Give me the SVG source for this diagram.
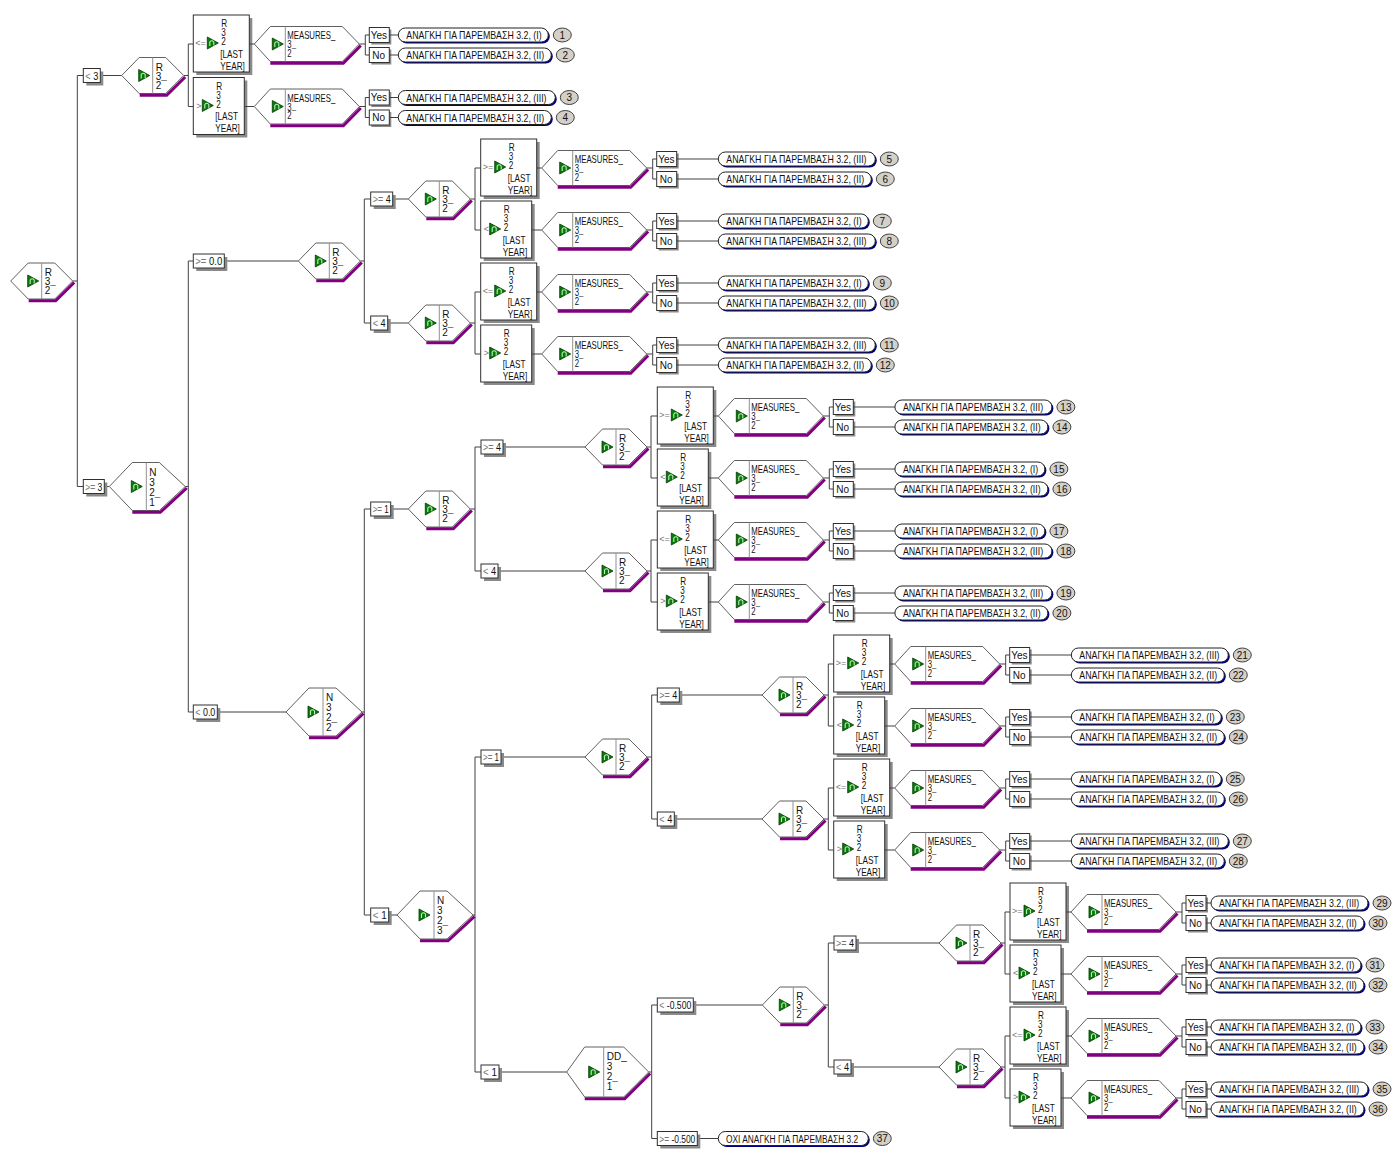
<svg xmlns="http://www.w3.org/2000/svg" width="1396" height="1149" viewBox="0 0 1396 1149">
<style>
.ln{fill:none;stroke:#404040;stroke-width:1}
.dv{fill:none;stroke:#909090;stroke-width:1}
.bx{fill:#fff;stroke:#303030;stroke-width:1}
.sh{fill:#8a8a8a}
.hx{fill:#fff;stroke:#606060;stroke-width:1}
.pu{fill:none;stroke:#800080;stroke-width:3}
.pl{fill:#fff;stroke:#202020;stroke-width:1}
.ps{fill:#000080}
.bd{fill:#d4d0c8;stroke:#404040;stroke-width:1}
.t{font-family:"Liberation Sans",Arial,sans-serif;font-size:10px;fill:#111}
.op{font-size:9px;fill:#777}
.pt{font-size:11px}
.bn{text-anchor:middle}
.g{fill:#777}
</style>
<defs>
  <!-- green decision icon -->
  <g id="ic">
    <path d="M0-6L11 0L0 6Z" fill="#0a7a0a" stroke="#043804" stroke-width="0.8"/>
    <path d="M2.5 3V-1Q4.5-3.5 6.5-1V2.5" fill="none" stroke="#b8f0b8" stroke-width="1.1"/>
  </g>
  <!-- split hexagons (origin at the left point) -->
  <g id="hR">
    <polygon class="hx" points="0,0 17.5,-18 44,-18 62,0 44,18 17.5,18"/>
    <polyline class="pu" points="18,19.8 45,19.8 63.5,1.5"/>
    <path class="dv" d="M31-18V18"/>
    <use href="#ic" x="17" y="0"/>
  </g>
  <g id="hN">
    <polygon class="hx" points="0,0 23,-24 50,-24 76,0 50,24 23,24"/>
    <polyline class="pu" points="23,25.8 51,25.8 77.5,1.5"/>
    <path class="dv" d="M37-24V24"/>
    <use href="#ic" x="22" y="0"/>
  </g>
  <g id="hD">
    <polygon class="hx" points="0,0 18,-25 57,-25 82,0 57,25 18,25"/>
    <polyline class="pu" points="18,26.8 58,26.8 83.5,1.5"/>
    <path class="dv" d="M37-25V25"/>
    <use href="#ic" x="22" y="0"/>
  </g>
  <!-- MEASURES split hexagon with Yes/No outcome boxes (origin: box left, centre line) -->
  <g id="mx">
    <polygon class="hx" points="61,0 77,-17.5 149,-17.5 166,0 149,17.5 77,17.5"/>
    <polyline class="pu" points="77,19.3 150,19.3 167.5,1.5"/>
    <path class="dv" d="M92-17.5V17.5"/>
    <use href="#ic" x="79" y="0"/>
    <path class="ln" d="M166 0H172M172-9V11M172-9H176M172 11H176"/>
    <rect class="sh" x="178" y="-14.5" width="20" height="15"/>
    <rect class="bx" x="176" y="-16.5" width="20" height="15"/>
    <rect class="sh" x="178" y="5.5" width="20" height="15"/>
    <rect class="bx" x="176" y="3.5" width="20" height="15"/>
  </g>
  <!-- wide and narrow "last year" split boxes -->
  <g id="uw">
    <rect class="sh" x="3" y="-26" width="56" height="57"/>
    <rect class="bx" x="0" y="-29" width="56" height="57"/>
    <use href="#ic" x="14" y="-1"/>
    <path class="ln" d="M56 0H61"/>
    <use href="#mx"/>
  </g>
  <g id="un">
    <rect class="sh" x="3" y="-26" width="51" height="57"/>
    <rect class="bx" x="0" y="-29" width="51" height="57"/>
    <use href="#ic" x="9" y="-1"/>
    <path class="ln" d="M51 0H61"/>
    <use href="#mx"/>
  </g>
  <!-- outcome pills with number badge -->
  <g id="pI"><rect class="ps" x="1.5" y="-5.5" width="150" height="14" rx="7"/><rect class="pl" x="0" y="-7" width="150" height="14" rx="7"/><ellipse class="bd" cx="164" cy="0" rx="9" ry="7"/></g>
  <g id="pII"><rect class="ps" x="1.5" y="-5.5" width="153" height="14" rx="7"/><rect class="pl" x="0" y="-7" width="153" height="14" rx="7"/><ellipse class="bd" cx="167" cy="0" rx="9" ry="7"/></g>
  <g id="pIII"><rect class="ps" x="1.5" y="-5.5" width="157" height="14" rx="7"/><rect class="pl" x="0" y="-7" width="157" height="14" rx="7"/><ellipse class="bd" cx="171" cy="0" rx="9" ry="7"/></g>
</defs>
<rect width="1396" height="1149" fill="#fff"/>

<!-- tree connectors -->
<g id="connectors">
<path class="ln" d="M72.7 281H77.3M77.3 75.5V486.5M77.3 75.5H83.3M77.3 486.5H83.3
M100.3 75.5H121.7M183.7 75.5H188.3M188.3 44V106.5M188.3 44H193.3M188.3 106.5H193.3
M104.3 486.5H109.3M185.3 486.5H188.3M188.3 261V712M188.3 261H193.3M188.3 712H193.3
M224.3 261H298.3M360.3 261H364.3M364.3 199V323M364.3 199H370.7M364.3 323H370.7
M392.7 199H408.3M387.7 323H408.3
M470.3 199H475M475 168V230M475 168H480.7M475 230H480.7
M470.3 323H475M475 292V354M475 292H480.7M475 354H480.7
M217.3 712H286M362 712H364.3M364.3 509V915M364.3 509H370.7M364.3 915H370.7
M390.7 509H408.3M470.3 509H475M475 447V571M475 447H481M475 571H481
M503 447H585M647 447H651M651 416V478M651 416H657.3M651 478H657.3
M498 571H585M647 571H651M651 540V602M651 540H657.3M651 602H657.3
M388.7 915H397M473 915H475M475 757V1072M475 757H481M475 1072H481
M501 757H585M647 757H651.7M651.7 695V819M651.7 695H657.3M651.7 819H657.3
M679.3 695H762M824 695H828.3M828.3 664V726M828.3 664H833.7M828.3 726H833.7
M674.3 819H762M824 819H828.3M828.3 788V850M828.3 788H833.7M828.3 850H833.7
M499 1072H566.7M648.7 1072H651.7M651.7 1005V1138.5M651.7 1005H657.3M651.7 1138.5H657.3
M693.3 1005H762.3M824.3 1005H828.3M828.3 943V1067M828.3 943H834M828.3 1067H834
M856 943H939M1001 943H1005M1005 912V974M1005 912H1010M1005 974H1010
M851 1067H939M1001 1067H1005M1005 1036V1098M1005 1036H1010M1005 1098H1010
M697.3 1138.5H718.3"/>
</g>

<!-- branch conditions -->
<g id="conditions">
<g id="c1"><rect class="sh" x="86.3" y="71.5" width="17" height="14"/><rect class="bx" x="83.3" y="68.5" width="17" height="14"/><text class="t" x="85.3" y="79.5" textLength="13" lengthAdjust="spacingAndGlyphs"><tspan class="g">&lt;</tspan> 3</text></g>
<g id="c2"><rect class="sh" x="86.3" y="482.5" width="21" height="14"/><rect class="bx" x="83.3" y="479.5" width="21" height="14"/><text class="t" x="85.3" y="490.5" textLength="17" lengthAdjust="spacingAndGlyphs"><tspan class="g">&gt;=</tspan> 3</text></g>
<g id="c3"><rect class="sh" x="196.3" y="257" width="31" height="14"/><rect class="bx" x="193.3" y="254" width="31" height="14"/><text class="t" x="195.3" y="265" textLength="27" lengthAdjust="spacingAndGlyphs"><tspan class="g">&gt;=</tspan> 0.0</text></g>
<g id="c4"><rect class="sh" x="196.3" y="708" width="24" height="14"/><rect class="bx" x="193.3" y="705" width="24" height="14"/><text class="t" x="195.3" y="716" textLength="20" lengthAdjust="spacingAndGlyphs"><tspan class="g">&lt;</tspan> 0.0</text></g>
<g id="c5"><rect class="sh" x="373.7" y="195" width="22" height="14"/><rect class="bx" x="370.7" y="192" width="22" height="14"/><text class="t" x="372.7" y="203" textLength="18" lengthAdjust="spacingAndGlyphs"><tspan class="g">&gt;=</tspan> 4</text></g>
<g id="c6"><rect class="sh" x="373.7" y="319" width="17" height="14"/><rect class="bx" x="370.7" y="316" width="17" height="14"/><text class="t" x="372.7" y="327" textLength="13" lengthAdjust="spacingAndGlyphs"><tspan class="g">&lt;</tspan> 4</text></g>
<g id="c7"><rect class="sh" x="373.7" y="505" width="20" height="14"/><rect class="bx" x="370.7" y="502" width="20" height="14"/><text class="t" x="372.7" y="513" textLength="16" lengthAdjust="spacingAndGlyphs"><tspan class="g">&gt;=</tspan> 1</text></g>
<g id="c8"><rect class="sh" x="373.7" y="911" width="18" height="14"/><rect class="bx" x="370.7" y="908" width="18" height="14"/><text class="t" x="372.7" y="919" textLength="14" lengthAdjust="spacingAndGlyphs"><tspan class="g">&lt;</tspan> 1</text></g>
<g id="c9"><rect class="sh" x="484" y="443" width="22" height="14"/><rect class="bx" x="481" y="440" width="22" height="14"/><text class="t" x="483" y="451" textLength="18" lengthAdjust="spacingAndGlyphs"><tspan class="g">&gt;=</tspan> 4</text></g>
<g id="c10"><rect class="sh" x="484" y="567" width="17" height="14"/><rect class="bx" x="481" y="564" width="17" height="14"/><text class="t" x="483" y="575" textLength="13" lengthAdjust="spacingAndGlyphs"><tspan class="g">&lt;</tspan> 4</text></g>
<g id="c11"><rect class="sh" x="484" y="753" width="20" height="14"/><rect class="bx" x="481" y="750" width="20" height="14"/><text class="t" x="483" y="761" textLength="16" lengthAdjust="spacingAndGlyphs"><tspan class="g">&gt;=</tspan> 1</text></g>
<g id="c12"><rect class="sh" x="484" y="1068" width="18" height="14"/><rect class="bx" x="481" y="1065" width="18" height="14"/><text class="t" x="483" y="1076" textLength="14" lengthAdjust="spacingAndGlyphs"><tspan class="g">&lt;</tspan> 1</text></g>
<g id="c13"><rect class="sh" x="660.3" y="691" width="22" height="14"/><rect class="bx" x="657.3" y="688" width="22" height="14"/><text class="t" x="659.3" y="699" textLength="18" lengthAdjust="spacingAndGlyphs"><tspan class="g">&gt;=</tspan> 4</text></g>
<g id="c14"><rect class="sh" x="660.3" y="815" width="17" height="14"/><rect class="bx" x="657.3" y="812" width="17" height="14"/><text class="t" x="659.3" y="823" textLength="13" lengthAdjust="spacingAndGlyphs"><tspan class="g">&lt;</tspan> 4</text></g>
<g id="c15"><rect class="sh" x="660.3" y="1001" width="36" height="14"/><rect class="bx" x="657.3" y="998" width="36" height="14"/><text class="t" x="659.3" y="1009" textLength="32" lengthAdjust="spacingAndGlyphs"><tspan class="g">&lt;</tspan> -0.500</text></g>
<g id="c16"><rect class="sh" x="660.3" y="1134.5" width="40" height="14"/><rect class="bx" x="657.3" y="1131.5" width="40" height="14"/><text class="t" x="659.3" y="1142.5" textLength="36" lengthAdjust="spacingAndGlyphs"><tspan class="g">&gt;=</tspan> -0.500</text></g>
<g id="c17"><rect class="sh" x="837" y="939" width="22" height="14"/><rect class="bx" x="834" y="936" width="22" height="14"/><text class="t" x="836" y="947" textLength="18" lengthAdjust="spacingAndGlyphs"><tspan class="g">&gt;=</tspan> 4</text></g>
<g id="c18"><rect class="sh" x="837" y="1063" width="17" height="14"/><rect class="bx" x="834" y="1060" width="17" height="14"/><text class="t" x="836" y="1071" textLength="13" lengthAdjust="spacingAndGlyphs"><tspan class="g">&lt;</tspan> 4</text></g>
</g>

<!-- split nodes -->
<g id="nodes">
<g id="root" transform="translate(10.7 281)"><use href="#hR"/><text class="t"><tspan x="34" y="-5">R</tspan><tspan x="34" y="4">3</tspan><tspan x="34" y="13">2¯</tspan></text></g>
<g id="s-lt3" transform="translate(121.7 75.5)"><use href="#hR"/><text class="t"><tspan x="34" y="-5">R</tspan><tspan x="34" y="4">3</tspan><tspan x="34" y="13">2¯</tspan></text></g>
<g id="s-n321" transform="translate(109.3 486.5)"><use href="#hN"/><text class="t"><tspan x="40" y="-11">N</tspan><tspan x="40" y="-1">3</tspan><tspan x="40" y="9">2</tspan><tspan x="40" y="19">1¯</tspan></text></g>
<g id="s-ge00" transform="translate(298.3 261)"><use href="#hR"/><text class="t"><tspan x="34" y="-5">R</tspan><tspan x="34" y="4">3</tspan><tspan x="34" y="13">2¯</tspan></text></g>
<g id="s-a1" transform="translate(408.3 199)"><use href="#hR"/><text class="t"><tspan x="34" y="-5">R</tspan><tspan x="34" y="4">3</tspan><tspan x="34" y="13">2¯</tspan></text></g>
<g id="s-a2" transform="translate(408.3 323)"><use href="#hR"/><text class="t"><tspan x="34" y="-5">R</tspan><tspan x="34" y="4">3</tspan><tspan x="34" y="13">2¯</tspan></text></g>
<g id="s-n322" transform="translate(286 712)"><use href="#hN"/><text class="t"><tspan x="40" y="-11">N</tspan><tspan x="40" y="-1">3</tspan><tspan x="40" y="9">2</tspan><tspan x="40" y="19">2¯</tspan></text></g>
<g id="s-b0" transform="translate(408.3 509)"><use href="#hR"/><text class="t"><tspan x="34" y="-5">R</tspan><tspan x="34" y="4">3</tspan><tspan x="34" y="13">2¯</tspan></text></g>
<g id="s-b1" transform="translate(585 447)"><use href="#hR"/><text class="t"><tspan x="34" y="-5">R</tspan><tspan x="34" y="4">3</tspan><tspan x="34" y="13">2¯</tspan></text></g>
<g id="s-b2" transform="translate(585 571)"><use href="#hR"/><text class="t"><tspan x="34" y="-5">R</tspan><tspan x="34" y="4">3</tspan><tspan x="34" y="13">2¯</tspan></text></g>
<g id="s-n323" transform="translate(397 915)"><use href="#hN"/><text class="t"><tspan x="40" y="-11">N</tspan><tspan x="40" y="-1">3</tspan><tspan x="40" y="9">2</tspan><tspan x="40" y="19">3¯</tspan></text></g>
<g id="s-c0" transform="translate(585 757)"><use href="#hR"/><text class="t"><tspan x="34" y="-5">R</tspan><tspan x="34" y="4">3</tspan><tspan x="34" y="13">2¯</tspan></text></g>
<g id="s-c1" transform="translate(762 695)"><use href="#hR"/><text class="t"><tspan x="34" y="-5">R</tspan><tspan x="34" y="4">3</tspan><tspan x="34" y="13">2¯</tspan></text></g>
<g id="s-c2" transform="translate(762 819)"><use href="#hR"/><text class="t"><tspan x="34" y="-5">R</tspan><tspan x="34" y="4">3</tspan><tspan x="34" y="13">2¯</tspan></text></g>
<g id="s-dd321" transform="translate(566.7 1072)"><use href="#hD"/><text class="t"><tspan x="40" y="-12">DD_</tspan><tspan x="40" y="-2">3</tspan><tspan x="40" y="8">2</tspan><tspan x="40" y="18">1¯</tspan></text></g>
<g id="s-d0" transform="translate(762.3 1005)"><use href="#hR"/><text class="t"><tspan x="34" y="-5">R</tspan><tspan x="34" y="4">3</tspan><tspan x="34" y="13">2¯</tspan></text></g>
<g id="s-d1" transform="translate(939 943)"><use href="#hR"/><text class="t"><tspan x="34" y="-5">R</tspan><tspan x="34" y="4">3</tspan><tspan x="34" y="13">2¯</tspan></text></g>
<g id="s-d2" transform="translate(939 1067)"><use href="#hR"/><text class="t"><tspan x="34" y="-5">R</tspan><tspan x="34" y="4">3</tspan><tspan x="34" y="13">2¯</tspan></text></g>
<g id="leaf37"><use href="#pI" x="718.3" y="1138.5"/><text class="t pt" transform="translate(726 1142.5) scale(.76 1)">ΟΧΙ ΑΝΑΓΚΗ ΓΙΑ ΠΑΡΕΜΒΑΣΗ 3.2</text><text class="t bn" x="882.3" y="1142">37</text></g>
</g>

<!-- last-year splits with measures split and outcomes -->
<g id="units">
<g id="u1" transform="translate(193.3 44)"><use href="#uw"/><text class="t op" x="2" y="2">&lt;=</text><text class="t" transform="translate(27 0) scale(.82 1)"><tspan x="1.2" y="-17">R</tspan><tspan x="1.2" y="-8">3</tspan><tspan x="1.2" y="1">2</tspan><tspan x="0" y="14">[LAST</tspan><tspan x="0" y="26">YEAR]</tspan></text><text class="t" transform="translate(94 0) scale(.78 1)"><tspan x="0" y="-5">MEASURES_</tspan><tspan x="0" y="4">3</tspan><tspan x="0" y="13">2¯</tspan></text><text class="t" x="177.5" y="-5.5">Yes</text><text class="t" x="179" y="14.5">No</text><path class="ln" d="M196-9H205M196 11H205"/>
<g id="leaf1"><use href="#pI" x="205" y="-9"/><text class="t pt" transform="translate(213 -5) scale(.8 1)">ΑΝΑΓΚΗ ΓΙΑ ΠΑΡΕΜΒΑΣΗ 3.2, (I)</text><text class="t bn" x="369" y="-5.5">1</text></g>
<g id="leaf2"><use href="#pII" x="205" y="11"/><text class="t pt" transform="translate(213 15) scale(.8 1)">ΑΝΑΓΚΗ ΓΙΑ ΠΑΡΕΜΒΑΣΗ 3.2, (II)</text><text class="t bn" x="372" y="14.5">2</text></g></g>
<g id="u2" transform="translate(193.3 106.5)"><use href="#un"/><text class="t op" x="3" y="2">&gt;</text><text class="t" transform="translate(22 0) scale(.82 1)"><tspan x="1.2" y="-17">R</tspan><tspan x="1.2" y="-8">3</tspan><tspan x="1.2" y="1">2</tspan><tspan x="0" y="14">[LAST</tspan><tspan x="0" y="26">YEAR]</tspan></text><text class="t" transform="translate(94 0) scale(.78 1)"><tspan x="0" y="-5">MEASURES_</tspan><tspan x="0" y="4">3</tspan><tspan x="0" y="13">2¯</tspan></text><text class="t" x="177.5" y="-5.5">Yes</text><text class="t" x="179" y="14.5">No</text><path class="ln" d="M196-9H205M196 11H205"/>
<g id="leaf3"><use href="#pIII" x="205" y="-9"/><text class="t pt" transform="translate(213 -5) scale(.8 1)">ΑΝΑΓΚΗ ΓΙΑ ΠΑΡΕΜΒΑΣΗ 3.2, (III)</text><text class="t bn" x="376" y="-5.5">3</text></g>
<g id="leaf4"><use href="#pII" x="205" y="11"/><text class="t pt" transform="translate(213 15) scale(.8 1)">ΑΝΑΓΚΗ ΓΙΑ ΠΑΡΕΜΒΑΣΗ 3.2, (II)</text><text class="t bn" x="372" y="14.5">4</text></g></g>

<g id="u5" transform="translate(480.7 168)"><use href="#uw"/><text class="t op" x="2" y="2">&gt;=</text><text class="t" transform="translate(27 0) scale(.82 1)"><tspan x="1.2" y="-17">R</tspan><tspan x="1.2" y="-8">3</tspan><tspan x="1.2" y="1">2</tspan><tspan x="0" y="14">[LAST</tspan><tspan x="0" y="26">YEAR]</tspan></text><text class="t" transform="translate(94 0) scale(.78 1)"><tspan x="0" y="-5">MEASURES_</tspan><tspan x="0" y="4">3</tspan><tspan x="0" y="13">2¯</tspan></text><text class="t" x="177.5" y="-5.5">Yes</text><text class="t" x="179" y="14.5">No</text><path class="ln" d="M196-9H237.6M196 11H237.6"/>
<g id="leaf5"><use href="#pIII" x="237.6" y="-9"/><text class="t pt" transform="translate(245.6 -5) scale(.8 1)">ΑΝΑΓΚΗ ΓΙΑ ΠΑΡΕΜΒΑΣΗ 3.2, (III)</text><text class="t bn" x="408.6" y="-5.5">5</text></g>
<g id="leaf6"><use href="#pII" x="237.6" y="11"/><text class="t pt" transform="translate(245.6 15) scale(.8 1)">ΑΝΑΓΚΗ ΓΙΑ ΠΑΡΕΜΒΑΣΗ 3.2, (II)</text><text class="t bn" x="404.6" y="14.5">6</text></g></g>
<g id="u7" transform="translate(480.7 230)"><use href="#un"/><text class="t op" x="3" y="2">&lt;</text><text class="t" transform="translate(22 0) scale(.82 1)"><tspan x="1.2" y="-17">R</tspan><tspan x="1.2" y="-8">3</tspan><tspan x="1.2" y="1">2</tspan><tspan x="0" y="14">[LAST</tspan><tspan x="0" y="26">YEAR]</tspan></text><text class="t" transform="translate(94 0) scale(.78 1)"><tspan x="0" y="-5">MEASURES_</tspan><tspan x="0" y="4">3</tspan><tspan x="0" y="13">2¯</tspan></text><text class="t" x="177.5" y="-5.5">Yes</text><text class="t" x="179" y="14.5">No</text><path class="ln" d="M196-9H237.6M196 11H237.6"/>
<g id="leaf7"><use href="#pI" x="237.6" y="-9"/><text class="t pt" transform="translate(245.6 -5) scale(.8 1)">ΑΝΑΓΚΗ ΓΙΑ ΠΑΡΕΜΒΑΣΗ 3.2, (I)</text><text class="t bn" x="401.6" y="-5.5">7</text></g>
<g id="leaf8"><use href="#pIII" x="237.6" y="11"/><text class="t pt" transform="translate(245.6 15) scale(.8 1)">ΑΝΑΓΚΗ ΓΙΑ ΠΑΡΕΜΒΑΣΗ 3.2, (III)</text><text class="t bn" x="408.6" y="14.5">8</text></g></g>
<g id="u9" transform="translate(480.7 292)"><use href="#uw"/><text class="t op" x="2" y="2">&lt;=</text><text class="t" transform="translate(27 0) scale(.82 1)"><tspan x="1.2" y="-17">R</tspan><tspan x="1.2" y="-8">3</tspan><tspan x="1.2" y="1">2</tspan><tspan x="0" y="14">[LAST</tspan><tspan x="0" y="26">YEAR]</tspan></text><text class="t" transform="translate(94 0) scale(.78 1)"><tspan x="0" y="-5">MEASURES_</tspan><tspan x="0" y="4">3</tspan><tspan x="0" y="13">2¯</tspan></text><text class="t" x="177.5" y="-5.5">Yes</text><text class="t" x="179" y="14.5">No</text><path class="ln" d="M196-9H237.6M196 11H237.6"/>
<g id="leaf9"><use href="#pI" x="237.6" y="-9"/><text class="t pt" transform="translate(245.6 -5) scale(.8 1)">ΑΝΑΓΚΗ ΓΙΑ ΠΑΡΕΜΒΑΣΗ 3.2, (I)</text><text class="t bn" x="401.6" y="-5.5">9</text></g>
<g id="leaf10"><use href="#pIII" x="237.6" y="11"/><text class="t pt" transform="translate(245.6 15) scale(.8 1)">ΑΝΑΓΚΗ ΓΙΑ ΠΑΡΕΜΒΑΣΗ 3.2, (III)</text><text class="t bn" x="408.6" y="14.5">10</text></g></g>
<g id="u11" transform="translate(480.7 354)"><use href="#un"/><text class="t op" x="3" y="2">&gt;</text><text class="t" transform="translate(22 0) scale(.82 1)"><tspan x="1.2" y="-17">R</tspan><tspan x="1.2" y="-8">3</tspan><tspan x="1.2" y="1">2</tspan><tspan x="0" y="14">[LAST</tspan><tspan x="0" y="26">YEAR]</tspan></text><text class="t" transform="translate(94 0) scale(.78 1)"><tspan x="0" y="-5">MEASURES_</tspan><tspan x="0" y="4">3</tspan><tspan x="0" y="13">2¯</tspan></text><text class="t" x="177.5" y="-5.5">Yes</text><text class="t" x="179" y="14.5">No</text><path class="ln" d="M196-9H237.6M196 11H237.6"/>
<g id="leaf11"><use href="#pIII" x="237.6" y="-9"/><text class="t pt" transform="translate(245.6 -5) scale(.8 1)">ΑΝΑΓΚΗ ΓΙΑ ΠΑΡΕΜΒΑΣΗ 3.2, (III)</text><text class="t bn" x="408.6" y="-5.5">11</text></g>
<g id="leaf12"><use href="#pII" x="237.6" y="11"/><text class="t pt" transform="translate(245.6 15) scale(.8 1)">ΑΝΑΓΚΗ ΓΙΑ ΠΑΡΕΜΒΑΣΗ 3.2, (II)</text><text class="t bn" x="404.6" y="14.5">12</text></g></g>

<g id="u13" transform="translate(657.3 416)"><use href="#uw"/><text class="t op" x="2" y="2">&gt;=</text><text class="t" transform="translate(27 0) scale(.82 1)"><tspan x="1.2" y="-17">R</tspan><tspan x="1.2" y="-8">3</tspan><tspan x="1.2" y="1">2</tspan><tspan x="0" y="14">[LAST</tspan><tspan x="0" y="26">YEAR]</tspan></text><text class="t" transform="translate(94 0) scale(.78 1)"><tspan x="0" y="-5">MEASURES_</tspan><tspan x="0" y="4">3</tspan><tspan x="0" y="13">2¯</tspan></text><text class="t" x="177.5" y="-5.5">Yes</text><text class="t" x="179" y="14.5">No</text><path class="ln" d="M196-9H237.6M196 11H237.6"/>
<g id="leaf13"><use href="#pIII" x="237.6" y="-9"/><text class="t pt" transform="translate(245.6 -5) scale(.8 1)">ΑΝΑΓΚΗ ΓΙΑ ΠΑΡΕΜΒΑΣΗ 3.2, (III)</text><text class="t bn" x="408.6" y="-5.5">13</text></g>
<g id="leaf14"><use href="#pII" x="237.6" y="11"/><text class="t pt" transform="translate(245.6 15) scale(.8 1)">ΑΝΑΓΚΗ ΓΙΑ ΠΑΡΕΜΒΑΣΗ 3.2, (II)</text><text class="t bn" x="404.6" y="14.5">14</text></g></g>
<g id="u15" transform="translate(657.3 478)"><use href="#un"/><text class="t op" x="3" y="2">&lt;</text><text class="t" transform="translate(22 0) scale(.82 1)"><tspan x="1.2" y="-17">R</tspan><tspan x="1.2" y="-8">3</tspan><tspan x="1.2" y="1">2</tspan><tspan x="0" y="14">[LAST</tspan><tspan x="0" y="26">YEAR]</tspan></text><text class="t" transform="translate(94 0) scale(.78 1)"><tspan x="0" y="-5">MEASURES_</tspan><tspan x="0" y="4">3</tspan><tspan x="0" y="13">2¯</tspan></text><text class="t" x="177.5" y="-5.5">Yes</text><text class="t" x="179" y="14.5">No</text><path class="ln" d="M196-9H237.6M196 11H237.6"/>
<g id="leaf15"><use href="#pI" x="237.6" y="-9"/><text class="t pt" transform="translate(245.6 -5) scale(.8 1)">ΑΝΑΓΚΗ ΓΙΑ ΠΑΡΕΜΒΑΣΗ 3.2, (I)</text><text class="t bn" x="401.6" y="-5.5">15</text></g>
<g id="leaf16"><use href="#pII" x="237.6" y="11"/><text class="t pt" transform="translate(245.6 15) scale(.8 1)">ΑΝΑΓΚΗ ΓΙΑ ΠΑΡΕΜΒΑΣΗ 3.2, (II)</text><text class="t bn" x="404.6" y="14.5">16</text></g></g>
<g id="u17" transform="translate(657.3 540)"><use href="#uw"/><text class="t op" x="2" y="2">&lt;=</text><text class="t" transform="translate(27 0) scale(.82 1)"><tspan x="1.2" y="-17">R</tspan><tspan x="1.2" y="-8">3</tspan><tspan x="1.2" y="1">2</tspan><tspan x="0" y="14">[LAST</tspan><tspan x="0" y="26">YEAR]</tspan></text><text class="t" transform="translate(94 0) scale(.78 1)"><tspan x="0" y="-5">MEASURES_</tspan><tspan x="0" y="4">3</tspan><tspan x="0" y="13">2¯</tspan></text><text class="t" x="177.5" y="-5.5">Yes</text><text class="t" x="179" y="14.5">No</text><path class="ln" d="M196-9H237.6M196 11H237.6"/>
<g id="leaf17"><use href="#pI" x="237.6" y="-9"/><text class="t pt" transform="translate(245.6 -5) scale(.8 1)">ΑΝΑΓΚΗ ΓΙΑ ΠΑΡΕΜΒΑΣΗ 3.2, (I)</text><text class="t bn" x="401.6" y="-5.5">17</text></g>
<g id="leaf18"><use href="#pIII" x="237.6" y="11"/><text class="t pt" transform="translate(245.6 15) scale(.8 1)">ΑΝΑΓΚΗ ΓΙΑ ΠΑΡΕΜΒΑΣΗ 3.2, (III)</text><text class="t bn" x="408.6" y="14.5">18</text></g></g>
<g id="u19" transform="translate(657.3 602)"><use href="#un"/><text class="t op" x="3" y="2">&gt;</text><text class="t" transform="translate(22 0) scale(.82 1)"><tspan x="1.2" y="-17">R</tspan><tspan x="1.2" y="-8">3</tspan><tspan x="1.2" y="1">2</tspan><tspan x="0" y="14">[LAST</tspan><tspan x="0" y="26">YEAR]</tspan></text><text class="t" transform="translate(94 0) scale(.78 1)"><tspan x="0" y="-5">MEASURES_</tspan><tspan x="0" y="4">3</tspan><tspan x="0" y="13">2¯</tspan></text><text class="t" x="177.5" y="-5.5">Yes</text><text class="t" x="179" y="14.5">No</text><path class="ln" d="M196-9H237.6M196 11H237.6"/>
<g id="leaf19"><use href="#pIII" x="237.6" y="-9"/><text class="t pt" transform="translate(245.6 -5) scale(.8 1)">ΑΝΑΓΚΗ ΓΙΑ ΠΑΡΕΜΒΑΣΗ 3.2, (III)</text><text class="t bn" x="408.6" y="-5.5">19</text></g>
<g id="leaf20"><use href="#pII" x="237.6" y="11"/><text class="t pt" transform="translate(245.6 15) scale(.8 1)">ΑΝΑΓΚΗ ΓΙΑ ΠΑΡΕΜΒΑΣΗ 3.2, (II)</text><text class="t bn" x="404.6" y="14.5">20</text></g></g>

<g id="u21" transform="translate(833.7 664)"><use href="#uw"/><text class="t op" x="2" y="2">&gt;=</text><text class="t" transform="translate(27 0) scale(.82 1)"><tspan x="1.2" y="-17">R</tspan><tspan x="1.2" y="-8">3</tspan><tspan x="1.2" y="1">2</tspan><tspan x="0" y="14">[LAST</tspan><tspan x="0" y="26">YEAR]</tspan></text><text class="t" transform="translate(94 0) scale(.78 1)"><tspan x="0" y="-5">MEASURES_</tspan><tspan x="0" y="4">3</tspan><tspan x="0" y="13">2¯</tspan></text><text class="t" x="177.5" y="-5.5">Yes</text><text class="t" x="179" y="14.5">No</text><path class="ln" d="M196-9H237.6M196 11H237.6"/>
<g id="leaf21"><use href="#pIII" x="237.6" y="-9"/><text class="t pt" transform="translate(245.6 -5) scale(.8 1)">ΑΝΑΓΚΗ ΓΙΑ ΠΑΡΕΜΒΑΣΗ 3.2, (III)</text><text class="t bn" x="408.6" y="-5.5">21</text></g>
<g id="leaf22"><use href="#pII" x="237.6" y="11"/><text class="t pt" transform="translate(245.6 15) scale(.8 1)">ΑΝΑΓΚΗ ΓΙΑ ΠΑΡΕΜΒΑΣΗ 3.2, (II)</text><text class="t bn" x="404.6" y="14.5">22</text></g></g>
<g id="u23" transform="translate(833.7 726)"><use href="#un"/><text class="t op" x="3" y="2">&lt;</text><text class="t" transform="translate(22 0) scale(.82 1)"><tspan x="1.2" y="-17">R</tspan><tspan x="1.2" y="-8">3</tspan><tspan x="1.2" y="1">2</tspan><tspan x="0" y="14">[LAST</tspan><tspan x="0" y="26">YEAR]</tspan></text><text class="t" transform="translate(94 0) scale(.78 1)"><tspan x="0" y="-5">MEASURES_</tspan><tspan x="0" y="4">3</tspan><tspan x="0" y="13">2¯</tspan></text><text class="t" x="177.5" y="-5.5">Yes</text><text class="t" x="179" y="14.5">No</text><path class="ln" d="M196-9H237.6M196 11H237.6"/>
<g id="leaf23"><use href="#pI" x="237.6" y="-9"/><text class="t pt" transform="translate(245.6 -5) scale(.8 1)">ΑΝΑΓΚΗ ΓΙΑ ΠΑΡΕΜΒΑΣΗ 3.2, (I)</text><text class="t bn" x="401.6" y="-5.5">23</text></g>
<g id="leaf24"><use href="#pII" x="237.6" y="11"/><text class="t pt" transform="translate(245.6 15) scale(.8 1)">ΑΝΑΓΚΗ ΓΙΑ ΠΑΡΕΜΒΑΣΗ 3.2, (II)</text><text class="t bn" x="404.6" y="14.5">24</text></g></g>
<g id="u25" transform="translate(833.7 788)"><use href="#uw"/><text class="t op" x="2" y="2">&lt;=</text><text class="t" transform="translate(27 0) scale(.82 1)"><tspan x="1.2" y="-17">R</tspan><tspan x="1.2" y="-8">3</tspan><tspan x="1.2" y="1">2</tspan><tspan x="0" y="14">[LAST</tspan><tspan x="0" y="26">YEAR]</tspan></text><text class="t" transform="translate(94 0) scale(.78 1)"><tspan x="0" y="-5">MEASURES_</tspan><tspan x="0" y="4">3</tspan><tspan x="0" y="13">2¯</tspan></text><text class="t" x="177.5" y="-5.5">Yes</text><text class="t" x="179" y="14.5">No</text><path class="ln" d="M196-9H237.6M196 11H237.6"/>
<g id="leaf25"><use href="#pI" x="237.6" y="-9"/><text class="t pt" transform="translate(245.6 -5) scale(.8 1)">ΑΝΑΓΚΗ ΓΙΑ ΠΑΡΕΜΒΑΣΗ 3.2, (I)</text><text class="t bn" x="401.6" y="-5.5">25</text></g>
<g id="leaf26"><use href="#pII" x="237.6" y="11"/><text class="t pt" transform="translate(245.6 15) scale(.8 1)">ΑΝΑΓΚΗ ΓΙΑ ΠΑΡΕΜΒΑΣΗ 3.2, (II)</text><text class="t bn" x="404.6" y="14.5">26</text></g></g>
<g id="u27" transform="translate(833.7 850)"><use href="#un"/><text class="t op" x="3" y="2">&gt;</text><text class="t" transform="translate(22 0) scale(.82 1)"><tspan x="1.2" y="-17">R</tspan><tspan x="1.2" y="-8">3</tspan><tspan x="1.2" y="1">2</tspan><tspan x="0" y="14">[LAST</tspan><tspan x="0" y="26">YEAR]</tspan></text><text class="t" transform="translate(94 0) scale(.78 1)"><tspan x="0" y="-5">MEASURES_</tspan><tspan x="0" y="4">3</tspan><tspan x="0" y="13">2¯</tspan></text><text class="t" x="177.5" y="-5.5">Yes</text><text class="t" x="179" y="14.5">No</text><path class="ln" d="M196-9H237.6M196 11H237.6"/>
<g id="leaf27"><use href="#pIII" x="237.6" y="-9"/><text class="t pt" transform="translate(245.6 -5) scale(.8 1)">ΑΝΑΓΚΗ ΓΙΑ ΠΑΡΕΜΒΑΣΗ 3.2, (III)</text><text class="t bn" x="408.6" y="-5.5">27</text></g>
<g id="leaf28"><use href="#pII" x="237.6" y="11"/><text class="t pt" transform="translate(245.6 15) scale(.8 1)">ΑΝΑΓΚΗ ΓΙΑ ΠΑΡΕΜΒΑΣΗ 3.2, (II)</text><text class="t bn" x="404.6" y="14.5">28</text></g></g>

<g id="u29" transform="translate(1010 912)"><use href="#uw"/><text class="t op" x="2" y="2">&gt;=</text><text class="t" transform="translate(27 0) scale(.82 1)"><tspan x="1.2" y="-17">R</tspan><tspan x="1.2" y="-8">3</tspan><tspan x="1.2" y="1">2</tspan><tspan x="0" y="14">[LAST</tspan><tspan x="0" y="26">YEAR]</tspan></text><text class="t" transform="translate(94 0) scale(.78 1)"><tspan x="0" y="-5">MEASURES_</tspan><tspan x="0" y="4">3</tspan><tspan x="0" y="13">2¯</tspan></text><text class="t" x="177.5" y="-5.5">Yes</text><text class="t" x="179" y="14.5">No</text><path class="ln" d="M196-9H201M196 11H201"/>
<g id="leaf29"><use href="#pIII" x="201" y="-9"/><text class="t pt" transform="translate(209 -5) scale(.8 1)">ΑΝΑΓΚΗ ΓΙΑ ΠΑΡΕΜΒΑΣΗ 3.2, (III)</text><text class="t bn" x="372" y="-5.5">29</text></g>
<g id="leaf30"><use href="#pII" x="201" y="11"/><text class="t pt" transform="translate(209 15) scale(.8 1)">ΑΝΑΓΚΗ ΓΙΑ ΠΑΡΕΜΒΑΣΗ 3.2, (II)</text><text class="t bn" x="368" y="14.5">30</text></g></g>
<g id="u31" transform="translate(1010 974)"><use href="#un"/><text class="t op" x="3" y="2">&lt;</text><text class="t" transform="translate(22 0) scale(.82 1)"><tspan x="1.2" y="-17">R</tspan><tspan x="1.2" y="-8">3</tspan><tspan x="1.2" y="1">2</tspan><tspan x="0" y="14">[LAST</tspan><tspan x="0" y="26">YEAR]</tspan></text><text class="t" transform="translate(94 0) scale(.78 1)"><tspan x="0" y="-5">MEASURES_</tspan><tspan x="0" y="4">3</tspan><tspan x="0" y="13">2¯</tspan></text><text class="t" x="177.5" y="-5.5">Yes</text><text class="t" x="179" y="14.5">No</text><path class="ln" d="M196-9H201M196 11H201"/>
<g id="leaf31"><use href="#pI" x="201" y="-9"/><text class="t pt" transform="translate(209 -5) scale(.8 1)">ΑΝΑΓΚΗ ΓΙΑ ΠΑΡΕΜΒΑΣΗ 3.2, (I)</text><text class="t bn" x="365" y="-5.5">31</text></g>
<g id="leaf32"><use href="#pII" x="201" y="11"/><text class="t pt" transform="translate(209 15) scale(.8 1)">ΑΝΑΓΚΗ ΓΙΑ ΠΑΡΕΜΒΑΣΗ 3.2, (II)</text><text class="t bn" x="368" y="14.5">32</text></g></g>
<g id="u33" transform="translate(1010 1036)"><use href="#uw"/><text class="t op" x="2" y="2">&lt;=</text><text class="t" transform="translate(27 0) scale(.82 1)"><tspan x="1.2" y="-17">R</tspan><tspan x="1.2" y="-8">3</tspan><tspan x="1.2" y="1">2</tspan><tspan x="0" y="14">[LAST</tspan><tspan x="0" y="26">YEAR]</tspan></text><text class="t" transform="translate(94 0) scale(.78 1)"><tspan x="0" y="-5">MEASURES_</tspan><tspan x="0" y="4">3</tspan><tspan x="0" y="13">2¯</tspan></text><text class="t" x="177.5" y="-5.5">Yes</text><text class="t" x="179" y="14.5">No</text><path class="ln" d="M196-9H201M196 11H201"/>
<g id="leaf33"><use href="#pI" x="201" y="-9"/><text class="t pt" transform="translate(209 -5) scale(.8 1)">ΑΝΑΓΚΗ ΓΙΑ ΠΑΡΕΜΒΑΣΗ 3.2, (I)</text><text class="t bn" x="365" y="-5.5">33</text></g>
<g id="leaf34"><use href="#pII" x="201" y="11"/><text class="t pt" transform="translate(209 15) scale(.8 1)">ΑΝΑΓΚΗ ΓΙΑ ΠΑΡΕΜΒΑΣΗ 3.2, (II)</text><text class="t bn" x="368" y="14.5">34</text></g></g>
<g id="u35" transform="translate(1010 1098)"><use href="#un"/><text class="t op" x="3" y="2">&gt;</text><text class="t" transform="translate(22 0) scale(.82 1)"><tspan x="1.2" y="-17">R</tspan><tspan x="1.2" y="-8">3</tspan><tspan x="1.2" y="1">2</tspan><tspan x="0" y="14">[LAST</tspan><tspan x="0" y="26">YEAR]</tspan></text><text class="t" transform="translate(94 0) scale(.78 1)"><tspan x="0" y="-5">MEASURES_</tspan><tspan x="0" y="4">3</tspan><tspan x="0" y="13">2¯</tspan></text><text class="t" x="177.5" y="-5.5">Yes</text><text class="t" x="179" y="14.5">No</text><path class="ln" d="M196-9H201M196 11H201"/>
<g id="leaf35"><use href="#pIII" x="201" y="-9"/><text class="t pt" transform="translate(209 -5) scale(.8 1)">ΑΝΑΓΚΗ ΓΙΑ ΠΑΡΕΜΒΑΣΗ 3.2, (III)</text><text class="t bn" x="372" y="-5.5">35</text></g>
<g id="leaf36"><use href="#pII" x="201" y="11"/><text class="t pt" transform="translate(209 15) scale(.8 1)">ΑΝΑΓΚΗ ΓΙΑ ΠΑΡΕΜΒΑΣΗ 3.2, (II)</text><text class="t bn" x="368" y="14.5">36</text></g></g>
</g>
</svg>
